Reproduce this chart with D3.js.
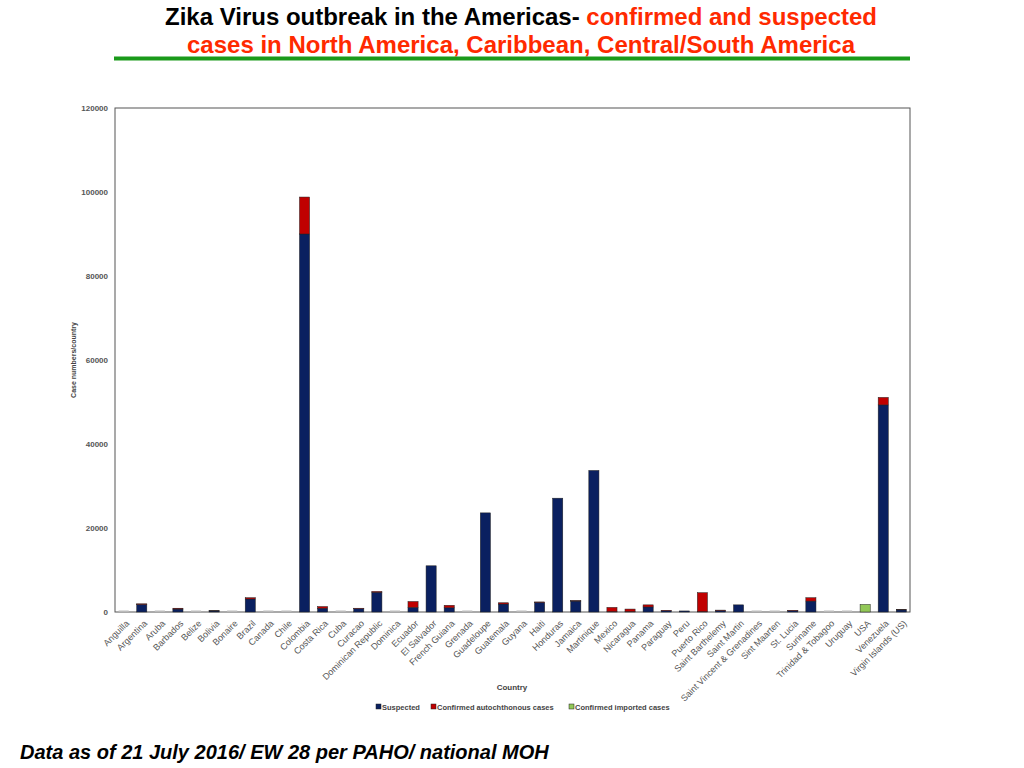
<!DOCTYPE html>
<html><head><meta charset="utf-8">
<script src="https://cdn.jsdelivr.net/npm/d3@7"></script>
<style>body{margin:0;background:#fff;font-family:"Liberation Sans",Arial,sans-serif}</style>
</head><body>
<script>
// countries and values
var countries = ["Anguilla","Argentina","Aruba","Barbados","Belize","Bolivia","Bonaire","Brazil","Canada","Chile","Colombia","Costa Rica","Cuba","Curacao","Dominican Republic","Dominica","Ecuador","El Salvador","French Guiana","Grenada","Guadeloupe","Guatemala","Guyana","Haiti","Honduras","Jamaica","Martinique","Mexico","Nicaragua","Panama","Paraguay","Peru","Puerto Rico","Saint Barthelemy","Saint Martin","Saint Vincent & Grenadines","Sint Maarten","St. Lucia","Suriname","Trinidad & Tobagoo","Uruguay","USA","Venezuela","Virgin Islands (US)"];
var suspected = [0,1800,0,700,0,250,0,3100,0,0,90000,900,0,800,4700,0,1100,11000,1000,0,23600,1900,0,2300,27100,2600,33700,100,100,1200,300,250,100,350,1700,0,0,300,2600,0,0,0,49300,500];
var confirmedAuto = [0,150,0,200,0,50,0,300,0,0,8800,400,0,100,200,0,1400,0,600,0,0,300,0,100,0,100,0,1000,600,500,100,0,4500,100,0,0,0,100,800,0,0,0,1800,100];
var confirmedImported = [0,0,0,0,0,0,0,0,0,0,0,0,0,0,0,0,0,0,0,0,0,0,0,0,0,0,0,0,0,0,0,0,0,0,0,0,0,0,0,0,0,1800,0,0];
var yTicks = [0,20000,40000,60000,80000,100000,120000];
var seriesNames = ["Suspected","Confirmed autochthonous  cases","Confirmed imported cases"];
var colors = ["#0a2060","#c00000","#92c857"];

var svg = d3.select("body").append("svg").attr("width",1024).attr("height",768);

// title
svg.append("text").attr("x",521).attr("y",25).attr("text-anchor","middle")
  .style("font","bold 24px 'Liberation Sans',Arial").attr("fill","#000")
  .attr("textLength",712).attr("lengthAdjust","spacingAndGlyphs")
  .text("Zika Virus outbreak in the Americas- ")
  .append("tspan").attr("fill","#ff2a00").text("confirmed and suspected");
svg.append("text").attr("x",521).attr("y",53).attr("text-anchor","middle")
  .style("font","bold 24px 'Liberation Sans',Arial").attr("fill","#ff2a00")
  .attr("textLength",668).attr("lengthAdjust","spacingAndGlyphs")
  .text("cases in North America, Caribbean, Central/South America");
svg.append("line").attr("x1",114).attr("x2",910).attr("y1",58.5).attr("y2",58.5)
  .attr("stroke","#1a9a1a").attr("stroke-width",4);

var x = d3.scaleBand().domain(countries).range([115,910]).paddingInner(0.44).paddingOuter(0.2);
var y = d3.scaleLinear().domain([0,120000]).range([612,108]);

// frame
svg.append("rect").attr("x",115).attr("y",108).attr("width",795).attr("height",504)
  .attr("fill","none").attr("stroke","#555").attr("stroke-width",1);

var ya = svg.append("g").attr("transform","translate(115,0)")
  .call(d3.axisLeft(y).tickValues(yTicks).tickSize(0).tickPadding(7).tickFormat(d3.format("d")));
ya.select(".domain").remove();
ya.selectAll("text").style("font","bold 8px 'Liberation Sans',Arial").attr("fill","#555");

var xa = svg.append("g").attr("transform","translate(0,612)")
  .call(d3.axisBottom(x).tickSize(0).tickPadding(0));
xa.select(".domain").remove();
xa.selectAll("text").style("font","9px 'Liberation Sans',Arial").attr("fill","#555")
  .attr("text-anchor","end").attr("y",0).attr("dy","0")
  .attr("transform","translate(6,12) rotate(-45)");

// stacked bars
var rows = countries.map(function(c,i){return {c:c,s:suspected[i],a:confirmedAuto[i],m:confirmedImported[i]};});
var stack = d3.stack().keys(["s","a","m"])(rows);
var g = svg.append("g");
stack.forEach(function(layer,k){
  g.selectAll(null).data(layer.filter(function(d){return d[1]>d[0];})).enter().append("rect")
    .attr("x",function(d){return x(d.data.c);}).attr("width",x.bandwidth())
    .attr("y",function(d){return y(d[1]);}).attr("height",function(d){return y(d[0])-y(d[1]);})
    .attr("fill",colors[k]).attr("stroke","#222").attr("stroke-width",0.5);
});
// zero stubs
g.selectAll(null).data(rows.filter(function(d){return d.s+d.a+d.m===0;})).enter().append("rect")
  .attr("x",function(d){return x(d.c);}).attr("width",x.bandwidth())
  .attr("y",610.5).attr("height",1.5).attr("fill","#bbb");

// axis titles
svg.append("text").attr("x",512).attr("y",690).attr("text-anchor","middle")
  .style("font","bold 8px 'Liberation Sans',Arial").attr("fill","#444").text("Country");
svg.append("text").attr("transform","translate(76,360) rotate(-90)").attr("text-anchor","middle")
  .style("font","bold 7px 'Liberation Sans',Arial").attr("fill","#444").text("Case numbers/country");

// legend
var lx = [376,431,569];
seriesNames.forEach(function(n,i){
  svg.append("rect").attr("x",lx[i]).attr("y",704).attr("width",5).attr("height",5)
    .attr("fill",colors[i]).attr("stroke","#222").attr("stroke-width",0.5);
  svg.append("text").attr("x",lx[i]+6).attr("y",710)
    .style("font","bold 7.5px 'Liberation Sans',Arial").attr("fill","#444").text(n);
});

svg.append("text").attr("x",20).attr("y",759)
  .style("font","italic bold 20px 'Liberation Sans',Arial").attr("fill","#000")
  .text("Data as of 21 July 2016/ EW 28 per PAHO/ national MOH");
</script>
</body></html>
